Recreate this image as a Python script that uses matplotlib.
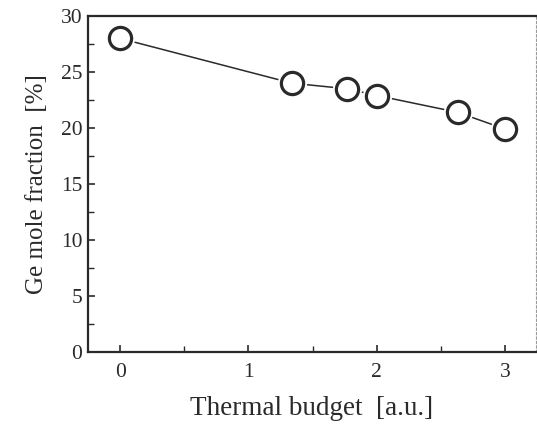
import matplotlib
matplotlib.use("Agg")
import matplotlib.pyplot as plt
from matplotlib.ticker import MultipleLocator

# Ge mole fraction versus thermal budget
thermal_budget = [0.0, 1.34, 1.77, 2.0, 2.63, 3.0]
ge_fraction = [28.0, 24.0, 23.5, 22.9, 21.4, 19.9]

plt.rcParams['font.family'] = ['Liberation Serif', 'DejaVu Serif']

fig = plt.figure(figsize=(5.37, 4.25), dpi=100)
ax = fig.add_axes([88 / 537, 1 - 352 / 425, 448 / 537, 336 / 425])

ink = '#2a2a2a'
ax.plot(thermal_budget, ge_fraction, '-', color=ink, lw=1.1, zorder=2)
# white halo so the line stops short of each circle
ax.plot(thermal_budget, ge_fraction, 'o', ms=18, mfc='white', mec='white',
        mew=3, zorder=3)
ax.plot(thermal_budget, ge_fraction, 'o', ms=16, mfc='white', mec=ink,
        mew=2.3, zorder=4)

ax.set_xlim(-0.25, 3.24)
ax.set_ylim(0, 30)
ax.xaxis.set_major_locator(MultipleLocator(1))
ax.xaxis.set_minor_locator(MultipleLocator(0.5))
ax.yaxis.set_major_locator(MultipleLocator(5))
ax.yaxis.set_minor_locator(MultipleLocator(2.5))
ax.tick_params(which='both', direction='in', color=ink, labelcolor=ink,
               labelsize=15.5, top=False, right=False)
ax.tick_params(which='major', length=5, width=1.2)
ax.tick_params(which='minor', length=4, width=1.0)
ax.tick_params(axis='x', pad=8)
ax.tick_params(axis='y', pad=4)

for side in ('left', 'bottom', 'top'):
    ax.spines[side].set_color(ink)
    ax.spines[side].set_linewidth(1.6)
ax.spines['right'].set_color('#9a9a9a')
ax.spines['right'].set_linewidth(0.8)
ax.spines['right'].set_linestyle((0, (2, 2)))

ax.set_xlabel('Thermal budget  [a.u.]', fontsize=19.5, color=ink, labelpad=10)
ax.set_ylabel('Ge mole fraction  [%]', fontsize=18, color=ink, labelpad=9)

fig.savefig('out.png', dpi=100)
